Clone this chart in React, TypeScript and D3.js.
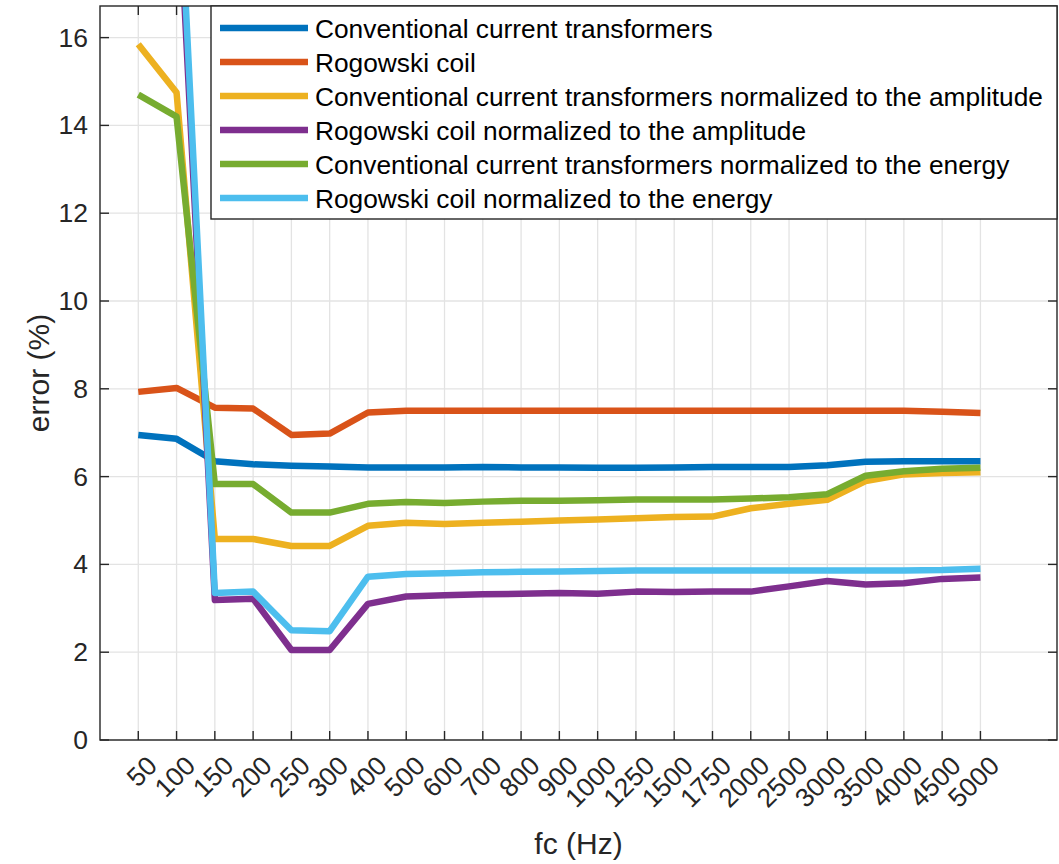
import React from "react";
import * as d3 from "d3";

const categories = ["50","100","150","200","250","300","400","500","600","700","800","900","1000","1250","1500","1750","2000","2500","3000","3500","4000","4500","5000"];
const seriesNames = [
  "Conventional current transformers",
  "Rogowski coil",
  "Conventional current transformers normalized to the amplitude",
  "Rogowski coil normalized to the amplitude",
  "Conventional current transformers normalized to the energy",
  "Rogowski coil normalized to the energy",
];
const seriesColors = ["#0072BD", "#D95319", "#EDB120", "#7E2F8E", "#77AC30", "#4DBEEE"];

const cct = [6.95,6.86,6.35,6.28,6.25,6.23,6.21,6.21,6.21,6.22,6.21,6.21,6.2,6.2,6.21,6.22,6.22,6.22,6.26,6.34,6.35,6.35,6.35];
const rogowski = [7.93,8.02,7.57,7.55,6.95,6.98,7.46,7.5,7.5,7.5,7.5,7.5,7.5,7.5,7.5,7.5,7.5,7.5,7.5,7.5,7.5,7.48,7.45];
const cctAmp = [15.85,14.75,4.58,4.58,4.42,4.42,4.88,4.95,4.92,4.95,4.97,5.0,5.02,5.05,5.08,5.09,5.28,5.38,5.47,5.9,6.05,6.08,6.1];
const rogAmp = [23,20.3,3.19,3.22,2.05,2.05,3.1,3.27,3.3,3.32,3.33,3.35,3.33,3.38,3.37,3.38,3.38,3.5,3.62,3.54,3.57,3.67,3.7];
const cctEnergy = [14.7,14.2,5.83,5.83,5.18,5.18,5.38,5.42,5.4,5.43,5.45,5.45,5.46,5.48,5.48,5.48,5.5,5.53,5.6,6.02,6.12,6.18,6.2];
const rogEnergy = [24,21,3.35,3.38,2.5,2.48,3.72,3.78,3.8,3.82,3.83,3.84,3.85,3.86,3.86,3.86,3.86,3.86,3.86,3.86,3.86,3.87,3.9];
const allSeries = [cct, rogowski, cctAmp, rogAmp, cctEnergy, rogEnergy];

const yTicks = [0, 2, 4, 6, 8, 10, 12, 14, 16];
const yLabel = "error (%)";
const xLabel = "fc (Hz)";

export default function App() {
  const W = 1059, H = 864;
  const L = 100, R = 1057, T = 6, B = 740;
  const x = d3.scaleLinear().domain([-1, 24]).range([L, R]);
  const y = d3.scaleLinear().domain([0, 16.72]).range([B, T]);
  const line = d3.line<number>().x((_, i) => x(i)).y((d) => y(d));
  const axisColor = "#262626";
  const gridColor = "#e3e3e3";
  const font = "'Liberation Sans', Arial, Helvetica, sans-serif";
  const tickLen = 9;

  const legX = 211, legY = 6, legW = R - 211, legH = 213;
  const rowH = 34;

  return (
    <svg width={W} height={H} style={{ position: "absolute", left: 0, top: 0, background: "#fff" }} fontFamily={font}>
      <defs>
        <clipPath id="plotclip">
          <rect x={L} y={T} width={R - L} height={B - T} />
        </clipPath>
      </defs>
      <rect x={0} y={0} width={W} height={H} fill="#fff" />
      {/* grid */}
      {categories.map((c, i) => (
        <line key={"gx" + c} x1={x(i)} x2={x(i)} y1={T} y2={B} stroke={gridColor} strokeWidth={1.3} />
      ))}
      {yTicks.map((t) => (
        <line key={"gy" + t} x1={L} x2={R} y1={y(t)} y2={y(t)} stroke={gridColor} strokeWidth={1.3} />
      ))}
      {/* lines */}
      <g clipPath="url(#plotclip)">
        {allSeries.map((s, k) => (
          <path key={"s" + k} d={line(s) || ""} fill="none" stroke={seriesColors[k]} strokeWidth={6.5} strokeLinejoin="round" />
        ))}
      </g>
      {/* box */}
      <rect x={L} y={T} width={R - L} height={B - T} fill="none" stroke={axisColor} strokeWidth={1.4} />
      {/* ticks */}
      {categories.map((c, i) => (
        <g key={"tx" + c}>
          <line x1={x(i)} x2={x(i)} y1={B} y2={B - tickLen} stroke={axisColor} strokeWidth={1.4} />
          <line x1={x(i)} x2={x(i)} y1={T} y2={T + tickLen} stroke={axisColor} strokeWidth={1.4} />
          <text
            transform={`translate(${x(i) + 14},${B + 21}) rotate(-45)`}
            textAnchor="end"
            dominantBaseline="central"
            fontSize={26.5}
            fill={axisColor}
          >
            {c}
          </text>
        </g>
      ))}
      {yTicks.map((t) => (
        <g key={"ty" + t}>
          <line x1={L} x2={L + tickLen} y1={y(t)} y2={y(t)} stroke={axisColor} strokeWidth={1.4} />
          <line x1={R} x2={R - tickLen} y1={y(t)} y2={y(t)} stroke={axisColor} strokeWidth={1.4} />
          <text x={L - 12} y={y(t)} textAnchor="end" dominantBaseline="central" fontSize={26.5} fill={axisColor}>
            {t}
          </text>
        </g>
      ))}
      {/* axis labels */}
      <text transform={`translate(38,${(T + B) / 2}) rotate(-90)`} textAnchor="middle" dominantBaseline="central" fontSize={30} fill={axisColor}>
        {yLabel}
      </text>
      <text x={(L + R) / 2} y={843} textAnchor="middle" dominantBaseline="central" fontSize={30} fill={axisColor}>
        {xLabel}
      </text>
      {/* legend */}
      <rect x={legX} y={legY} width={legW} height={legH} fill="#fff" stroke={axisColor} strokeWidth={1.4} />
      {seriesNames.map((n, k) => (
        <g key={"lg" + k}>
          <line x1={220} x2={308} y1={legY + 22 + k * rowH} y2={legY + 22 + k * rowH} stroke={seriesColors[k]} strokeWidth={6.5} />
          <text x={315} y={legY + 23 + k * rowH} dominantBaseline="central" fontSize={26.3} fill="#000">
            {n}
          </text>
        </g>
      ))}
    </svg>
  );
}
